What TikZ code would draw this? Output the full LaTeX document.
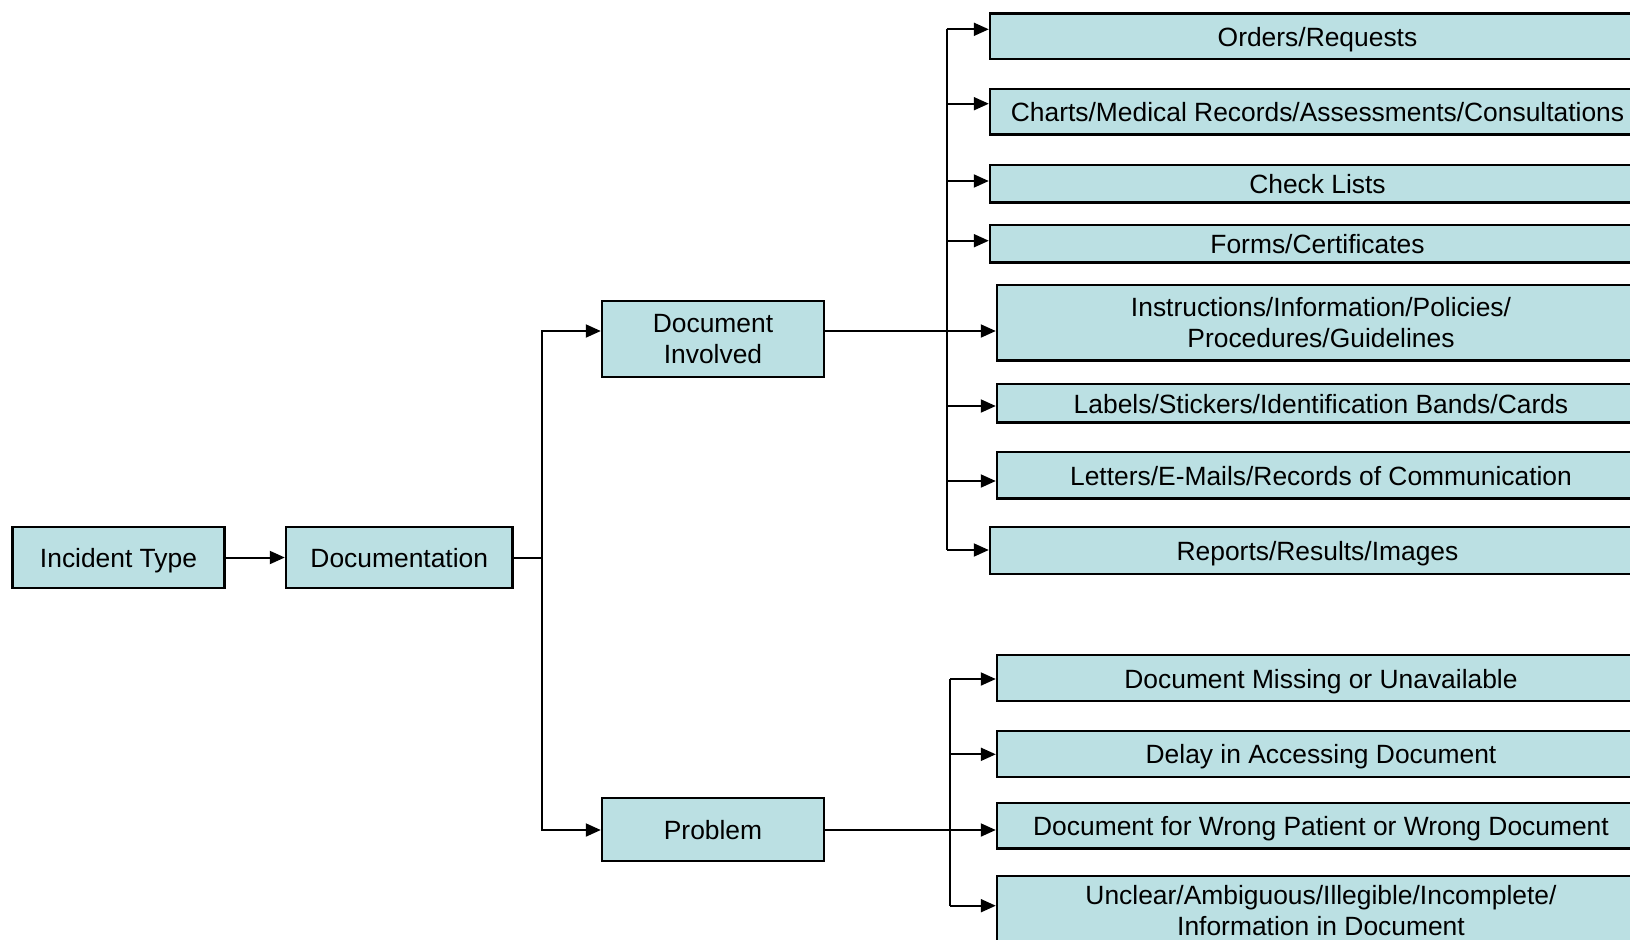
\documentclass[tikz,border=0pt]{standalone}
\usepackage{fontspec}
\setmainfont{Liberation Sans}
\usetikzlibrary{arrows.meta,calc}
\definecolor{boxfill}{RGB}{187,224,227}
\begin{document}
\begin{tikzpicture}[x=0.5pt,y=-0.5pt,
  box/.style={draw=black,line width=1.2pt,fill=boxfill,rectangle,inner sep=0pt,align=center,
    font=\fontsize{13.2}{15.5}\selectfont},
  single/.style={box,text height=11.5pt,text depth=1.5pt},
  conn/.style={line width=1pt,draw=black},
  arr/.style={conn,-{Triangle[length=7.5pt,width=6.5pt]}}]
\useasboundingbox (0,0) rectangle (1630,939);
\clip (0,0) rectangle (1630,939);
% left part
\node[single,minimum width=106pt,minimum height=30.5pt] (it) at (118.5,557.5) {Incident Type};
\node[single,minimum width=113.25pt,minimum height=30.5pt] (doc) at (399.25,557.5) {Documentation};
\node[box,minimum width=111pt,minimum height=38pt] (di) at (713,338.7) {Document\\Involved};
\node[single,minimum width=111pt,minimum height=31.5pt] (prob) at (713,829.5) {Problem};
% right column, top group
\node[single,minimum width=327.5pt,minimum height=22.85pt] (o1) at (1317.5,36.2) {Orders/Requests};
\node[single,minimum width=327.5pt,minimum height=22.65pt] (o2) at (1317.5,111.7) {Charts/Medical Records/Assessments/Consultations};
\node[single,minimum width=327.5pt,minimum height=18.8pt] (o3) at (1317.5,183.5) {Check Lists};
\node[single,minimum width=327.5pt,minimum height=18.85pt] (o4) at (1317.5,243.8) {Forms/Certificates};
\node[box,minimum width=324pt,minimum height=37.85pt] (o5) at (1321,322.8) {Instructions/Information/Policies/\\Procedures/Guidelines};
\node[single,minimum width=324pt,minimum height=19.35pt] (o6) at (1321,403.3) {Labels/Stickers/Identification Bands/Cards};
\node[single,minimum width=324pt,minimum height=23.3pt] (o7) at (1321,475) {Letters/E-Mails/Records of Communication};
\node[single,minimum width=327.5pt,minimum height=23.35pt] (o8) at (1317.5,550.6) {Reports/Results/Images};
% right column, bottom group
\node[single,minimum width=324pt,minimum height=23pt] (p1) at (1321,678) {Document Missing or Unavailable};
\node[single,minimum width=324pt,minimum height=23pt] (p2) at (1321,753.7) {Delay in Accessing Document};
\node[single,minimum width=324pt,minimum height=22.8pt] (p3) at (1321,825.5) {Document for Wrong Patient or Wrong Document};
\node[box,minimum width=324pt,minimum height=35pt] (p4) at (1321,911) {Unclear/Ambiguous/Illegible/Incomplete/\\Information in Document};
% arrow end points
\coordinate (e1) at ([yshift=3.45pt]o1.west);
\coordinate (e2) at ([yshift=4pt]o2.west);
\coordinate (e3) at ([yshift=1.25pt]o3.west);
\coordinate (e4) at ([yshift=1.55pt]o4.west);
\coordinate (e5) at ([yshift=-4.1pt]o5.west);
\coordinate (e6) at ([yshift=-1.35pt]o6.west);
\coordinate (e7) at ([yshift=-3pt]o7.west);
\coordinate (e8) at ([yshift=0.3pt]o8.west);
\coordinate (f1) at ([yshift=-0.5pt]p1.west);
\coordinate (f2) at ([yshift=-0.3pt]p2.west);
\coordinate (f3) at ([yshift=-2.25pt]p3.west);
\coordinate (f4) at ([yshift=2.65pt]p4.west);
\coordinate (tr) at (542,557.5);
\coordinate (va) at (946.5,0);
\coordinate (vb) at (950.3,0);
% connectors
\draw[arr] (it) -- (doc);
\draw[conn] (doc.east) -- (tr);
\draw[arr] (tr) |- (di.west |- e5);
\draw[arr] (tr) |- (prob.west |- f3);
\draw[arr] (di.east |- e5) -- (e5);
\draw[arr] (prob.east |- f3) -- (f3);
\draw[conn] (va |- e1) -- (va |- e8);
\foreach \e in {e1,e2,e3,e4,e6,e7,e8} \draw[arr] (va |- \e) -- (\e);
\draw[conn] (vb |- f1) -- (vb |- f4);
\foreach \e in {f1,f2,f4} \draw[arr] (vb |- \e) -- (\e);
\end{tikzpicture}
\end{document}
